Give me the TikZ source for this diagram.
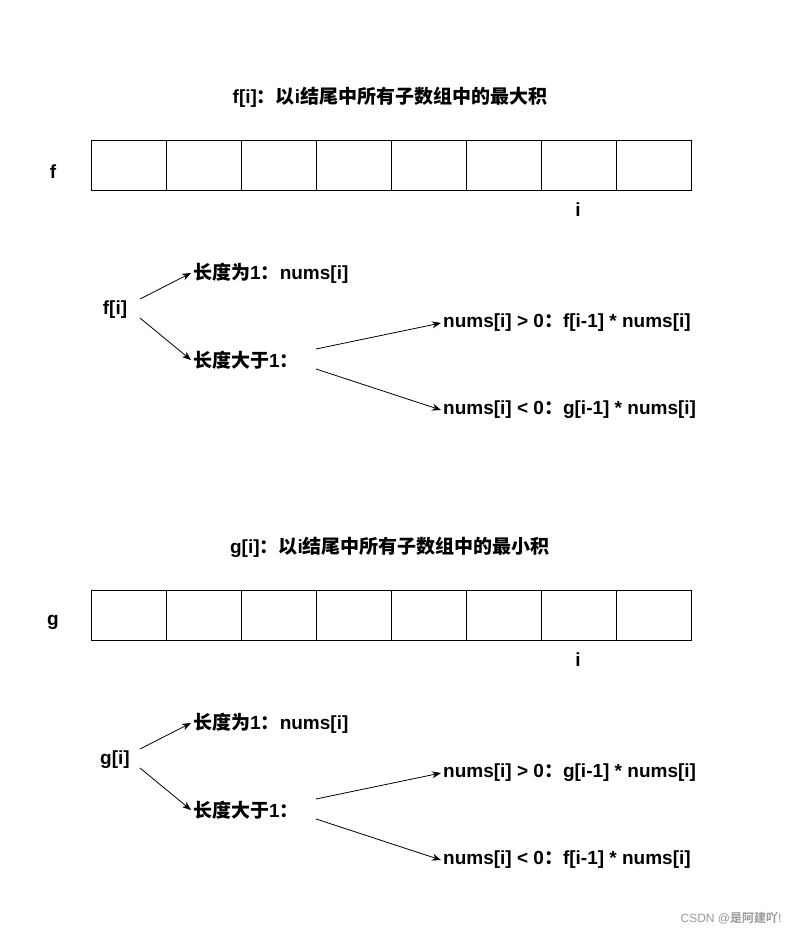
\documentclass[tikz,border=0pt]{standalone}
\usepackage{fontspec}
\setmainfont{Liberation Sans}
\newfontfamily\cjk{Noto Sans CJK SC Bold}
\newcommand{\zh}[1]{{\cjk #1}}
\usetikzlibrary{arrows.meta}
\begin{document}
\begin{tikzpicture}[x=1pt,y=-1pt,
  lbl/.style={font=\fontsize{19}{21}\selectfont\bfseries, inner sep=0pt},
  lft/.style={lbl, anchor=west},
  cell/.style={draw, line width=0.8pt, minimum width=75pt, minimum height=50pt, inner sep=0pt, anchor=north west},
  arr/.style={-{Stealth[length=9pt,width=7pt]}, line width=0.8pt}]
\useasboundingbox[fill=white] (0,0) rectangle (790,934);
\foreach \s/\n/\t/\a/\b in {0/f/最大/f/g, 450/g/最小/g/f}{
  \begin{scope}[yshift=-\s]
  \node[lbl] (title\n) at (390,97) {\n[i]\zh{：以}i\zh{结尾中所有子数组中的\t 积}};
  \foreach \k in {0,...,7}{\node[cell] (c\n\k) at (91+75*\k,140) {};}
  \node[lbl] (name\n) at (53,172) {\n};
  \node[lbl] (idx\n) at (578,210) {i};
  \node[lbl] (root\n) at (115,310) {\n[i]};
  \node[lft] (one\n) at (193,273) {\zh{长度为}1\zh{：}nums[i]};
  \node[lft] (more\n) at (193,360) {\zh{长度大于}1\zh{：}};
  \node[lft] (pos\n) at (443,323) {nums[i] > 0\zh{：}\a[i-1] * nums[i]};
  \node[lft] (neg\n) at (443,410) {nums[i] < 0\zh{：}\b[i-1] * nums[i]};
  \coordinate (r1\n) at (140,299); \coordinate (r2\n) at (140,318);
  \coordinate (m1\n) at (316,349); \coordinate (m2\n) at (316,369);
  \draw[arr] (r1\n) -- ([xshift=-2pt]one\n.west);
  \draw[arr] (r2\n) -- ([xshift=-2pt]more\n.west);
  \draw[arr] (m1\n) -- ([xshift=-2pt]pos\n.west);
  \draw[arr] (m2\n) -- ([xshift=-2pt]neg\n.west);
  \end{scope}}
\node[font=\fontsize{12}{14}\selectfont, text=gray!80, anchor=east] (wm) at (785,918) {CSDN @\zh{是阿建吖}!};
\end{tikzpicture}
\end{document}
